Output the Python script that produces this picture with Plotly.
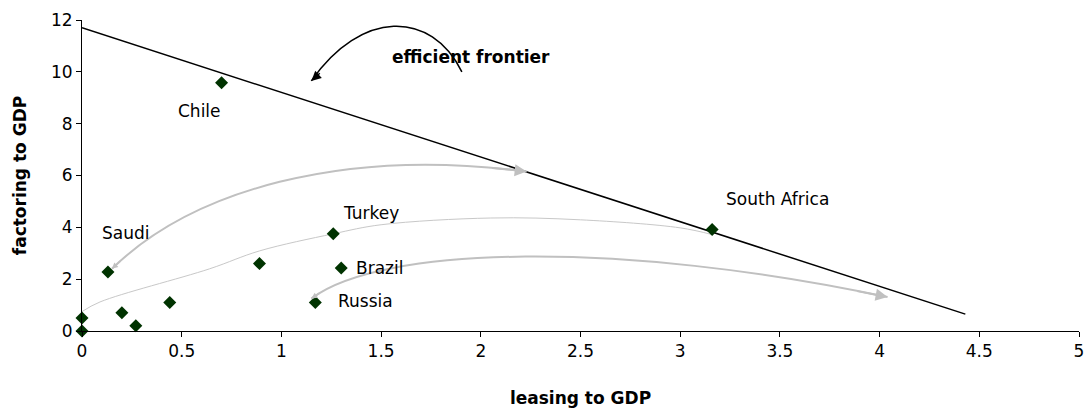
import plotly.graph_objects as go

# country points: leasing to GDP (x) vs factoring to GDP (y)
leasing = [0.0, 0.0, 0.13, 0.20, 0.27, 0.44, 0.70, 0.89, 1.17, 1.26, 1.30, 3.16]
factoring = [0.0, 0.5, 2.28, 0.7, 0.2, 1.1, 9.58, 2.6, 1.1, 3.75, 2.43, 3.92]

# efficient frontier line
frontier_x = [0.0, 4.43]
frontier_y = [11.70, 0.65]

# thin hand-drawn grey path (start -> Turkey -> South Africa)
path_x = [0.0, 0.09, 0.64, 0.89, 1.26, 1.5, 2.05, 2.5, 3.0, 3.16]
path_y = [0.75, 1.12, 2.4, 3.09, 3.75, 4.1, 4.36, 4.29, 3.98, 3.72]

# country labels
label_text = ["Chile", "Saudi", "Turkey", "Brazil", "Russia", "South Africa"]
label_x = [0.59, 0.22, 1.45, 1.49, 1.42, 3.49]
label_y = [8.49, 3.78, 4.56, 2.43, 1.16, 5.10]

GREEN = "#003300"
GREY = "#c0c0c0"
FONT = "DejaVu Sans, Liberation Sans, Arial, sans-serif"

fig = go.Figure()

fig.add_trace(go.Scatter(x=path_x, y=path_y, mode="lines",
                         line=dict(color="#c8c8c8", width=1, shape="spline"),
                         hoverinfo="skip"))
fig.add_trace(go.Scatter(x=frontier_x, y=frontier_y, mode="lines",
                         line=dict(color="black", width=1.5), hoverinfo="skip"))

# curved grey arrows and the black pointer arrow
curves = [
    ("M 0.15,2.4 C 0.55,5.4 1.3,7.1 2.23,6.15", GREY, 2),
    ("M 1.15,1.25 C 1.5,3.3 2.7,3.5 4.04,1.31", GREY, 2),
    ("M 1.905,10.0 C 1.75,12.4 1.40,12.4 1.15,9.65", "black", 1.5),
]
for p, c, w in curves:
    fig.add_shape(type="path", path=p, xref="x", yref="y",
                  line=dict(color=c, width=w))

# arrow heads: (tip x, tip y, tail x, tail y, colour, width, size)
heads = [
    (2.23, 6.15, 2.05, 6.30, GREY, 2, 1.2),
    (0.15, 2.4, 0.20, 2.75, GREY, 1.5, 0.8),
    (4.04, 1.31, 3.88, 1.55, GREY, 2, 1.2),
    (1.15, 1.25, 1.20, 1.50, GREY, 1.5, 0.8),
    (1.15, 9.65, 1.20, 10.0, "black", 1.5, 1.3),
]
for hx, hy, tx, ty, c, w, s in heads:
    fig.add_annotation(x=hx, y=hy, ax=tx, ay=ty, xref="x", yref="y",
                       axref="x", ayref="y", text="", showarrow=True,
                       arrowhead=2, arrowsize=s, arrowwidth=w, arrowcolor=c)

fig.add_trace(go.Scatter(x=leasing, y=factoring, mode="markers", cliponaxis=False,
                         marker=dict(symbol="diamond", size=10, color=GREEN),
                         hoverinfo="skip"))

for t, x, y in zip(label_text, label_x, label_y):
    fig.add_annotation(x=x, y=y, text=t, showarrow=False,
                       font=dict(size=17, color="black"))

fig.add_annotation(x=1.95, y=10.58, text="<b>efficient frontier</b>", showarrow=False,
                   font=dict(size=17, color="black"))

fig.update_layout(
    width=1086, height=408,
    margin=dict(l=82, r=7, t=20, b=77),
    plot_bgcolor="white", paper_bgcolor="white",
    showlegend=False,
    font=dict(family=FONT, size=17, color="black"),
)
fig.update_xaxes(range=[0, 5], tickvals=[0, 0.5, 1, 1.5, 2, 2.5, 3, 3.5, 4, 4.5, 5],
                 ticktext=["0", "0.5", "1", "1.5", "2", "2.5", "3", "3.5", "4", "4.5", "5"],
                 showgrid=False, zeroline=False, showline=True, linecolor="black",
                 ticks="outside", ticklen=5, tickcolor="black", automargin=False,
                 ticklabeloverflow="allow",
                 title=dict(text="<b>leasing to GDP</b>", font=dict(size=17), standoff=34))
fig.update_yaxes(range=[0, 12], tickvals=[0, 2, 4, 6, 8, 10, 12],
                 showgrid=False, zeroline=False, showline=True, linecolor="black",
                 ticks="outside", ticklen=5, tickcolor="black", automargin=False,
                 ticklabeloverflow="allow",
                 title=dict(text="<b>factoring to GDP</b>", font=dict(size=17), standoff=20))

# drop the browser's default body margin so the figure fills the window exactly
fig.write_html("out.html", config={"displayModeBar": False},
               post_script="document.body.style.margin='0';document.body.style.overflow='hidden';")
